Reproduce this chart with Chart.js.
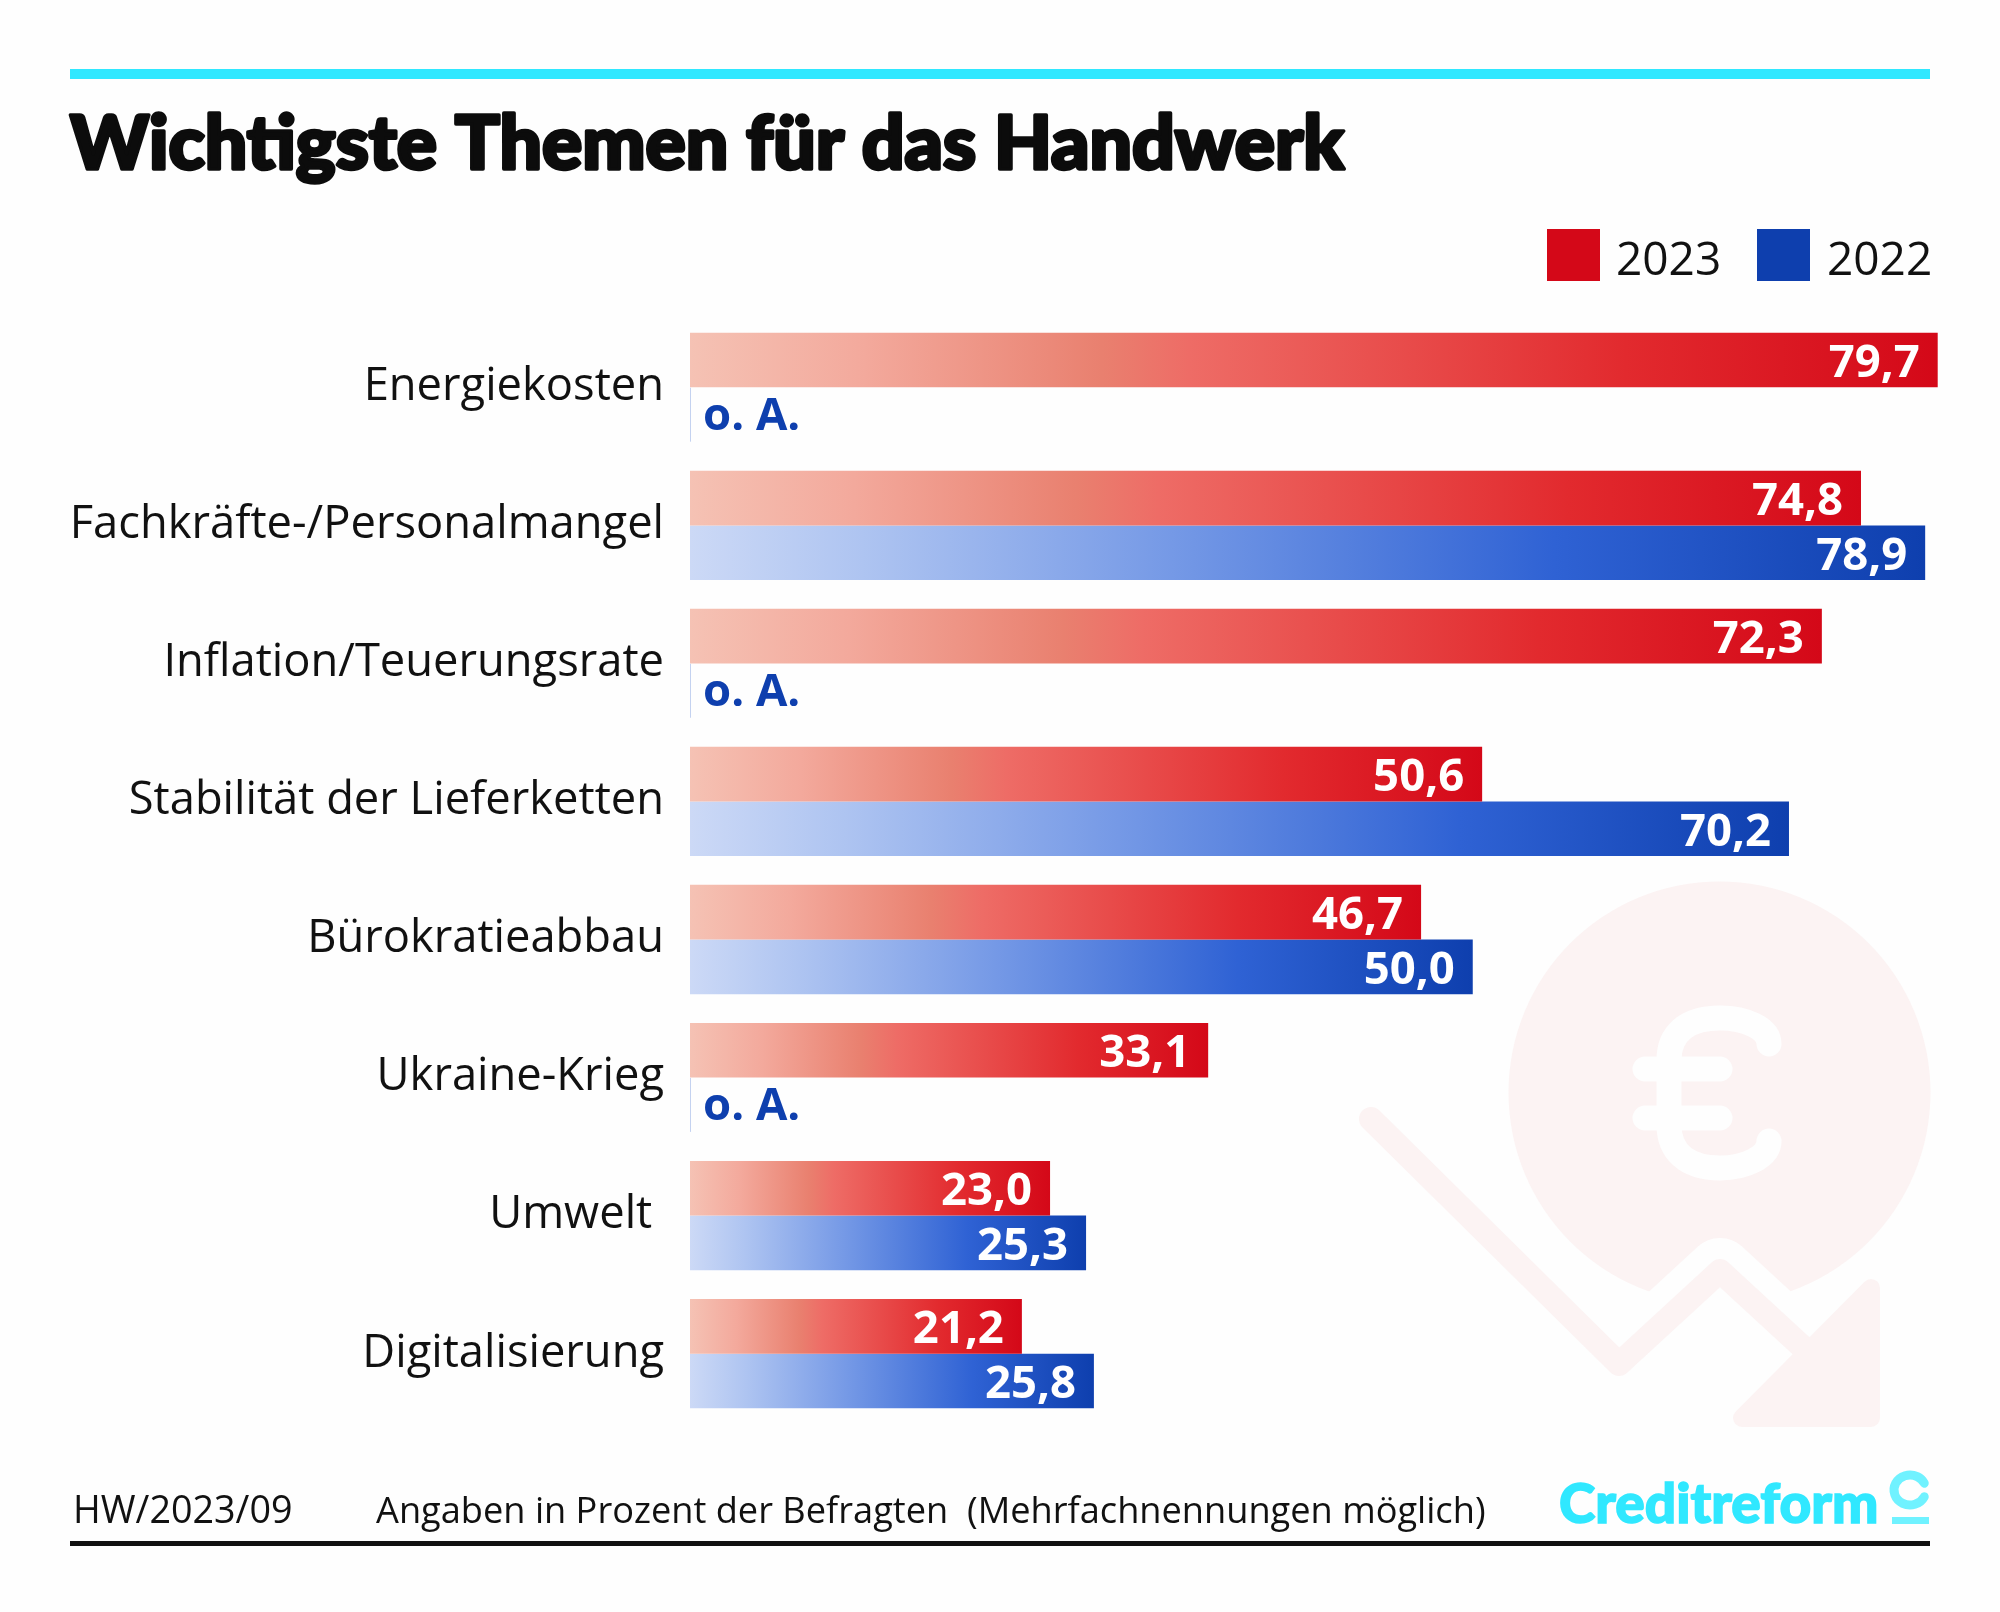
<!DOCTYPE html>
<html lang="de">
<head>
<meta charset="utf-8">
<title>Wichtigste Themen für das Handwerk</title>
<script src="https://cdn.jsdelivr.net/npm/chart.js@4"></script>
<style>
  html, body { margin: 0; padding: 0; background: #fefefe; }
  canvas { display: block; }
</style>
</head>
<body>
<canvas id="chart" width="2000" height="1612"></canvas>
<script>
const categories = ["Energiekosten", "Fachkräfte-/Personalmangel", "Inflation/Teuerungsrate", "Stabilität der Lieferketten", "Bürokratieabbau", "Ukraine-Krieg", "Umwelt ", "Digitalisierung"];
const values2023 = [79.7, 74.8, 72.3, 50.6, 46.7, 33.1, 23.0, 21.2];
const values2022 = [null, 78.9, null, 70.2, 50.0, null, 25.3, 25.8];
const seriesNames = ["2023", "2022"];
const noDataText = "o. A.";
const titleText = "Wichtigste Themen für das Handwerk";

const RED = "#d40818";
const BLUE = "#0e3fae";
const redStops = [[0, "#f5c2b4"], [0.14, "#f3a99c"], [0.33, "#e9806f"], [0.4, "#ee6c66"], [0.75, "#e22a2e"], [1, RED]];
const blueStops = [[0, "#ccd9f6"], [0.14, "#aec4f1"], [0.39, "#7599e6"], [0.7, "#2f62d4"], [1, BLUE]];
const TEXT_FONT = "'Open Sans', sans-serif";
const TITLE_TOP = 107;

function barGradient(ctx, stops) {
  if (ctx.type !== "data" || ctx.raw == null) return "transparent";
  const x = ctx.chart.scales.x;
  const from = x.getPixelForValue(0);
  const to = x.getPixelForValue(ctx.raw);
  if (!isFinite(from) || !isFinite(to)) return stops[stops.length - 1][1];
  const g = ctx.chart.ctx.createLinearGradient(from, 0, to, 0);
  stops.forEach((s) => g.addColorStop(s[0], s[1]));
  return g;
}

// watermark behind the bars
const watermark = {
  id: "watermark",
  beforeDatasetsDraw(chart) {
    const c = chart.ctx;
    const tint = "#fcf3f3";
    const zigzag = [[1371, 1119], [1619, 1364], [1720, 1271], [1810, 1354]];
    const trace = () => {
      c.beginPath();
      zigzag.forEach((p, i) => i ? c.lineTo(p[0], p[1]) : c.moveTo(p[0], p[1]));
    };
    c.save();
    c.lineJoin = "round";
    c.lineCap = "round";
    c.fillStyle = tint;
    c.beginPath();
    c.arc(1719.5, 1092.5, 211, 0, Math.PI * 2);
    c.fill();
    // euro sign knocked out
    c.strokeStyle = "#fefefe";
    c.lineWidth = 25;
    c.beginPath();
    c.moveTo(1769, 1044);
    c.bezierCurveTo(1769, 1028, 1745, 1018, 1720, 1018);
    c.bezierCurveTo(1685, 1018, 1669, 1035, 1669, 1060);
    c.lineTo(1669, 1125);
    c.bezierCurveTo(1669, 1150, 1685, 1168, 1720, 1168);
    c.bezierCurveTo(1745, 1168, 1769, 1157, 1769, 1141);
    c.moveTo(1645, 1069);
    c.lineTo(1720, 1069);
    c.moveTo(1645, 1118);
    c.lineTo(1720, 1118);
    c.stroke();
    // white halo then the arrow
    c.lineWidth = 66;
    trace();
    c.stroke();
    c.strokeStyle = tint;
    c.lineWidth = 24;
    trace();
    c.stroke();
    c.fillStyle = tint;
    c.lineWidth = 18;
    c.beginPath();
    c.moveTo(1871, 1288);
    c.lineTo(1871, 1418);
    c.lineTo(1742, 1418);
    c.closePath();
    c.fill();
    c.stroke();
    c.restore();
  }
};

// value labels inside the bars and the "o. A." notes
const barLabels = {
  id: "barLabels",
  afterDatasetsDraw(chart) {
    const c = chart.ctx;
    const zero = chart.scales.x.getPixelForValue(0);
    c.save();
    c.font = "700 45.5px " + TEXT_FONT;
    c.textBaseline = "alphabetic";
    chart.data.datasets.forEach((ds, d) => {
      chart.getDatasetMeta(d).data.forEach((bar, i) => {
        const v = ds.data[i];
        if (v == null) {
          c.strokeStyle = "#c4d2f0";
          c.lineWidth = 1;
          c.beginPath();
          c.moveTo(zero + 0.5, bar.y - 27);
          c.lineTo(zero + 0.5, bar.y + 27);
          c.stroke();
          c.fillStyle = BLUE;
          c.textAlign = "left";
          c.fillText(noDataText, zero + 13, bar.y + 15);
        } else {
          c.fillStyle = "#fff";
          c.textAlign = "right";
          c.fillText(v.toFixed(1).replace(".", ","), chart.scales.x.getPixelForValue(v) - 18, bar.y + 17);
        }
      });
    });
    c.restore();
  }
};

// rules, legend, footer and logo
const frame = {
  id: "frame",
  beforeDraw(chart) {
    const c = chart.ctx;
    c.save();
    c.fillStyle = "#fefefe";
    c.fillRect(0, 0, chart.width, chart.height);
    c.fillStyle = "#30e8ff";
    c.fillRect(70, 69, 1860, 10);
    c.fillStyle = "#111";
    c.textAlign = "left";
    c.textBaseline = "alphabetic";
    c.fillRect(70, 1541, 1860, 5);
    c.font = "400 37.7px " + TEXT_FONT;
    c.fillText("HW/2023/09", 73, 1523);
    c.font = "400 36.2px " + TEXT_FONT;
    c.fillText("Angaben in Prozent der Befragten  (Mehrfachnennungen möglich)", 376, 1523);
    // legend
    c.font = "400 46px " + TEXT_FONT;
    [[1547, 1616, RED], [1757, 1827, BLUE]].forEach((l, i) => {
      c.fillStyle = l[2];
      c.fillRect(l[0], 229, 53, 52);
      c.fillStyle = "#111";
      c.fillText(chart.data.datasets[i].label, l[1], 275);
    });
    // logo
    c.fillStyle = "#30e8ff";
    c.font = "900 55px Lato, sans-serif";
    c.fillText("Creditreform", 1559, 1523);
    c.strokeStyle = "#30e8ff";
    c.lineWidth = 1.5;
    c.strokeText("Creditreform", 1559, 1523);
    c.strokeStyle = "#70f2ff";
    c.lineWidth = 9;
    c.lineCap = "round";
    c.beginPath();
    c.ellipse(1910, 1490, 16, 15, 0, Math.PI * 0.15, Math.PI * 1.85);
    c.stroke();
    c.fillStyle = "#70f2ff";
    c.fillRect(1892, 1517, 37, 7);
    c.restore();
  },
  // the source title is heavier than any installed weight
  afterDraw(chart) {
    const c = chart.ctx;
    const t = chart.titleBlock;
    c.save();
    c.font = "900 75px Lato, sans-serif";
    c.textAlign = "left";
    c.textBaseline = "middle";
    c.strokeStyle = "#0c0c0c";
    c.lineWidth = 3.5;
    c.lineJoin = "round";
    c.strokeText(titleText, t.left, t.top + TITLE_TOP + 37.5);
    c.restore();
  }
};

new Chart(document.getElementById("chart"), {
  type: "bar",
  data: {
    labels: categories,
    datasets: [
      { label: seriesNames[0], data: values2023, backgroundColor: (ctx) => barGradient(ctx, redStops) },
      { label: seriesNames[1], data: values2022, backgroundColor: (ctx) => barGradient(ctx, blueStops) }
    ]
  },
  options: {
    indexAxis: "y",
    responsive: false,
    animation: false,
    layout: { padding: { left: 70, right: 57.6, top: 0, bottom: 189.35 } },
    categoryPercentage: 0.7918,
    barPercentage: 1,
    scales: {
      // value axis stays invisible, the bars just need its scale
      x: {
        min: 0,
        max: 80,
        afterFit: (scale) => { scale.height = 0; },
        grid: { display: false },
        border: { display: false },
        ticks: { display: false }
      },
      y: {
        afterFit: (scale) => { scale.width = 620; },
        grid: { display: false, drawTicks: false },
        border: { display: false },
        ticks: { color: "#111", padding: 26, labelOffset: 0, font: { family: TEXT_FONT, size: 45.3 } }
      }
    },
    plugins: {
      tooltip: { enabled: false },
      legend: { display: false },
      title: {
        display: true,
        text: titleText,
        align: "start",
        color: "#0c0c0c",
        font: { family: "Lato, sans-serif", size: 75, weight: "900", lineHeight: 1 },
        padding: { top: TITLE_TOP, bottom: 136.33 }
      }
    }
  },
  plugins: [frame, watermark, barLabels]
});
</script>
</body>
</html>
